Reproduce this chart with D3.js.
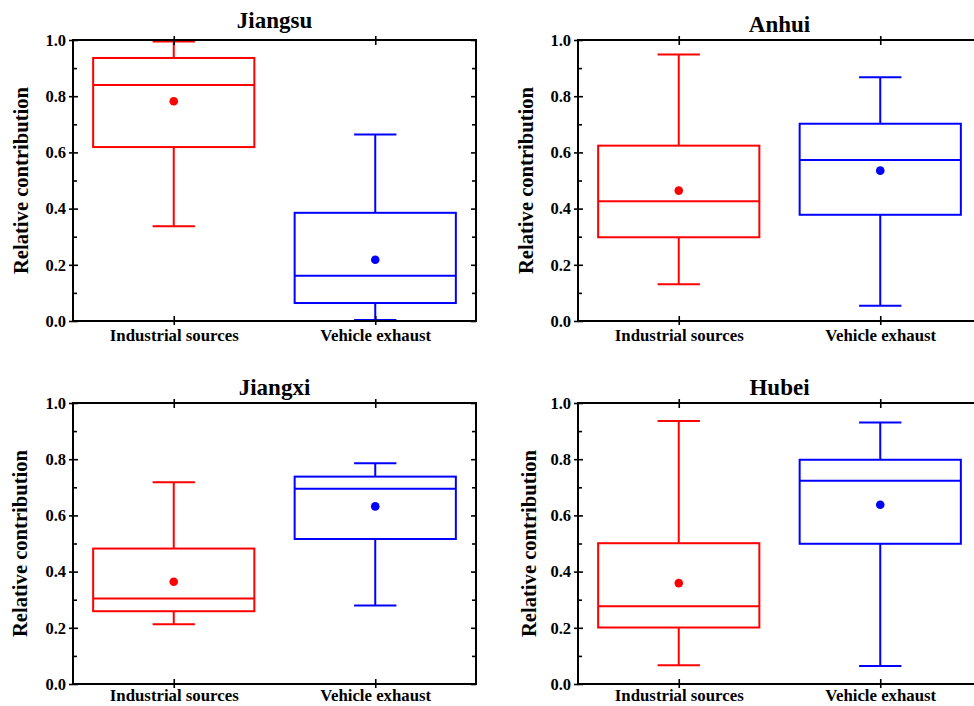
<!DOCTYPE html>
<html>
<head>
<meta charset="utf-8">
<script src="https://cdn.jsdelivr.net/npm/d3@7"></script>
<style>
  body { margin: 0; background: #fff; }
  text { font-family: "Liberation Serif", "Times New Roman", serif; font-weight: bold; fill: #000; }
</style>
</head>
<body>
<div id="plot"></div>
<script>
// chart values
const regions = ["Jiangsu", "Anhui", "Jiangxi", "Hubei"];
const sources = ["Industrial sources", "Vehicle exhaust"];
const colors = ["#ff0000", "#0000ff"];
const yTicks = [0, 0.2, 0.4, 0.6, 0.8, 1.0];
const yMinorTicks = [0.1, 0.3, 0.5, 0.7, 0.9];

// per region: [industrial, vehicle]
const whiskerLow  = [[0.337, 0.004], [0.131, 0.054], [0.213, 0.279], [0.067, 0.064]];
const q1          = [[0.619, 0.064], [0.298, 0.378], [0.259, 0.516], [0.201, 0.499]];
const median      = [[0.840, 0.161], [0.426, 0.573], [0.304, 0.695], [0.277, 0.723]];
const q3          = [[0.936, 0.385], [0.624, 0.702], [0.482, 0.738], [0.501, 0.798]];
const whiskerHigh = [[0.995, 0.664], [0.948, 0.867], [0.718, 0.786], [0.936, 0.931]];
const means       = [[0.782, 0.218], [0.464, 0.535], [0.364, 0.632], [0.359, 0.638]];

const W = 974, H = 706;
const svg = d3.select("#plot").append("svg")
  .attr("width", W).attr("height", H);

// panel layout
const panels = [
  { left: 73,  top: 40,  titleGap: 12, labelX: 21,  xLabelGap: 8 },
  { left: 578, top: 40,  titleGap: 8,  labelX: 526, xLabelGap: 8 },
  { left: 73,  top: 403, titleGap: 8,  labelX: 20,  xLabelGap: 5 },
  { left: 578, top: 403, titleGap: 8,  labelX: 529, xLabelGap: 5 }
];
const pw = 403, ph = 281;

panels.forEach((p, i) => {
  const g = svg.append("g").attr("transform", `translate(${p.left},${p.top})`);

  const x = d3.scalePoint().domain(sources).range([0, pw]).padding(0.5);
  const y = d3.scaleLinear().domain([0, 1]).range([ph, 0]);
  const step = x.step();
  const boxW = step * 0.8, capW = step * 0.105;

  const rows = sources.map((s, j) => ({
    s, c: colors[j],
    lo: whiskerLow[i][j], q1: q1[i][j], med: median[i][j],
    q3: q3[i][j], hi: whiskerHigh[i][j], mean: means[i][j]
  }));

  const b = g.selectAll("g.box").data(rows).enter().append("g")
    .attr("class", "box")
    .attr("stroke", d => d.c).attr("stroke-width", 2).attr("fill", "none");

  // whiskers
  b.append("line").attr("x1", d => x(d.s)).attr("x2", d => x(d.s))
    .attr("y1", d => y(d.hi)).attr("y2", d => y(d.q3));
  b.append("line").attr("x1", d => x(d.s)).attr("x2", d => x(d.s))
    .attr("y1", d => y(d.q1)).attr("y2", d => y(d.lo));
  b.append("line").attr("x1", d => x(d.s) - capW).attr("x2", d => x(d.s) + capW)
    .attr("y1", d => y(d.hi)).attr("y2", d => y(d.hi));
  b.append("line").attr("x1", d => x(d.s) - capW).attr("x2", d => x(d.s) + capW)
    .attr("y1", d => y(d.lo)).attr("y2", d => y(d.lo));
  // box
  b.append("rect").attr("x", d => x(d.s) - boxW / 2).attr("width", boxW)
    .attr("y", d => y(d.q3)).attr("height", d => y(d.q1) - y(d.q3));
  b.append("line").attr("x1", d => x(d.s) - boxW / 2).attr("x2", d => x(d.s) + boxW / 2)
    .attr("y1", d => y(d.med)).attr("y2", d => y(d.med));
  // mean
  b.append("circle").attr("cx", d => x(d.s)).attr("cy", d => y(d.mean))
    .attr("r", 4.3).attr("fill", d => d.c).attr("stroke", "none");

  // axes: outward part with labels
  const left = g.append("g").call(d3.axisLeft(y).tickValues(yTicks).tickSize(4).tickFormat(d3.format(".1f")));
  left.selectAll("text").attr("x", -7).style("font-size", "16.5px");
  g.append("g").call(d3.axisLeft(y).tickValues(yTicks).tickSize(-5).tickFormat(""));
  g.append("g").call(d3.axisLeft(y).tickValues(yMinorTicks).tickSize(-4).tickFormat(""));

  g.append("g").attr("transform", `translate(${pw},0)`)
    .call(d3.axisRight(y).tickValues(yTicks).tickSize(-5).tickFormat(""));
  g.append("g").attr("transform", `translate(${pw},0)`)
    .call(d3.axisRight(y).tickValues(yMinorTicks).tickSize(-4).tickFormat(""));

  const bottom = g.append("g").attr("transform", `translate(0,${ph})`)
    .call(d3.axisBottom(x).tickSize(4));
  bottom.selectAll("text").attr("y", p.xLabelGap).style("font-size", "16.8px");
  g.append("g").attr("transform", `translate(0,${ph})`)
    .call(d3.axisBottom(x).tickSize(-5).tickFormat(""));
  g.append("g").call(d3.axisTop(x).tickSize(4).tickFormat(""));
  g.append("g").call(d3.axisTop(x).tickSize(-5).tickFormat(""));

  g.selectAll(".domain").remove();
  g.selectAll(".tick line").attr("stroke", "#000").attr("stroke-width", 1.6);
  g.selectAll(".tick text").attr("fill", "#000")
    .style("font-family", "'Liberation Serif', serif").style("font-weight", "bold");

  // frame
  g.append("rect").attr("width", pw).attr("height", ph)
    .attr("fill", "none").attr("stroke", "#000").attr("stroke-width", 2);

  // title
  g.append("text").attr("x", pw / 2).attr("y", -p.titleGap)
    .attr("text-anchor", "middle").style("font-size", "23px")
    .text(regions[i]);

  // y label
  svg.append("text")
    .attr("transform", `translate(${p.labelX + 7},${p.top + ph / 2}) rotate(-90)`)
    .attr("text-anchor", "middle").style("font-size", "20.6px")
    .text("Relative contribution");
});
</script>
</body>
</html>
